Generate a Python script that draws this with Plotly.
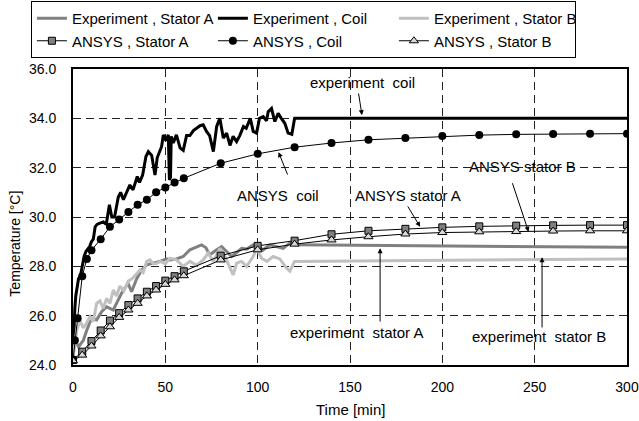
import plotly.graph_objects as go

# ---------------- data ----------------
exp_coil_t = [0, 0.5, 1, 1.5, 2, 3, 4, 5, 6, 7, 8, 9, 10, 11, 12, 13, 14.6, 16.4, 18, 19.7,
              21, 22.5, 24.5, 25.8, 27.3, 29, 30.8, 32.5, 34.8, 36, 37.7, 39.5, 40.8, 42.6, 44.4, 45.6,
              48, 48.9, 50.3, 51.6, 52.2, 52.8, 53.2, 54.3, 56, 58, 59.7, 61.5, 63.3, 65.2,
              67, 68.8, 70.5, 72.3, 74, 76, 77.8, 79.5, 81.4, 83.2, 85, 86.7, 88.6, 90.3,
              92.3, 93.8, 96, 97.6, 99.4, 101, 103, 104.8, 105.7, 107.5, 109.3, 111.1, 112.8, 114.7,
              116.5, 118.5, 120, 300]
exp_coil_T = [24.3, 25.6, 26.3, 26.8, 27.1, 27.5, 27.6, 28.1, 28.4, 28.6, 28.7, 28.8, 29.0, 29.1, 29.6, 29.7, 29.75, 29.8, 29.7, 30.5,
              30.0, 30.0, 30.8, 31.0, 30.7, 31.0, 31.3, 31.1, 31.64, 31.4, 31.7, 32.45, 32.65, 32.5, 31.7, 32.4,
              32.86, 33.33, 33.1, 33.33, 31.5, 31.6, 33.27, 33.0, 33.33, 32.8, 32.7, 33.3, 33.3, 33.5,
              33.6, 33.7, 33.74, 33.47, 33.3, 32.65, 33.67, 34.0, 33.2, 33.4, 32.9, 33.27, 33.06, 33.3,
              33.67, 33.6, 34.0, 33.47, 33.4, 34.0, 34.07, 33.9, 34.27, 34.4, 33.87, 34.2, 34.0, 33.8,
              33.4, 33.35, 34.0, 34.0]

exp_statA_t = [0, 1, 3, 5.6, 7.4, 10, 12.8, 15.5, 18.2, 21.8, 24.5, 27.2, 29.9, 31.7, 34.5, 37.2, 39.9,
               43.5, 47.1, 50.7, 52.5, 56, 59.7, 63.3, 67, 69.6, 72, 74, 77.8, 80.5, 83.2, 85.9, 88.5,
               91.3, 94, 97.6, 100.3, 103, 106.6, 110, 113.8, 117.4, 120, 300]
exp_statA_T = [24.3, 25.0, 24.74, 25.0, 25.4, 25.9, 25.83, 26.16, 26.36, 26.23, 26.64, 27.04, 27.3, 26.97, 27.5, 27.85, 28.06,
               28.12, 28.2, 28.3, 28.26, 28.3, 28.4, 28.67, 28.8, 28.87, 28.75, 28.46, 28.67, 28.8, 28.6, 28.4, 28.55,
               28.73, 28.7, 28.87, 28.8, 28.67, 28.87, 28.8, 28.73, 28.94, 28.87, 28.77]

exp_statB_t = [0, 1, 2, 3.8, 5.6, 7.4, 9.2, 11, 12.8, 14.6, 16.4, 18.2, 20, 21.8, 23.6, 25.4, 27.5, 29.9,
               32, 34.5, 36.3, 38, 39.9, 41.7, 43.5, 45.3, 47.5, 50, 52.5, 56, 59.7, 63.3, 66.9, 70.5,
               73.2, 76, 79.5, 82.3, 85, 86.7, 88.6, 91.3, 94, 97.6, 99.4, 102.1, 105, 108.4, 112,
               115.6, 117.4, 120, 300]
exp_statB_T = [24.3, 24.95, 25.4, 25.8, 25.5, 25.7, 25.96, 25.76, 26.5, 26.6, 26.3, 26.7, 26.5, 27.04, 26.8, 27.2, 27.0, 27.4,
               27.5, 27.7, 27.85, 27.75, 28.2, 28.26, 28.1, 28.12, 28.2, 28.1, 28.33, 28.26, 28.0, 28.2, 28.05, 28.26,
               28.53, 28.2, 28.73, 28.4, 27.93, 27.65, 28.13, 28.2, 28.0, 28.4, 28.73, 28.33, 28.2, 28.4, 28.3,
               27.93, 27.8, 28.2, 28.3]

ansys_coil_t = [0, 1, 2.5, 5, 7.5, 10, 15, 20, 25, 30, 35, 40, 45, 50, 55, 60, 80, 100, 120,
                140, 160, 180, 200, 220, 240, 260, 280, 300]
ansys_coil_T = [24.2, 25.0, 25.9, 27.6, 28.3, 28.65, 29.1, 29.6, 29.9, 30.2, 30.5, 30.7, 31.0, 31.2, 31.4, 31.57, 32.18, 32.56, 32.83,
                33.0, 33.13, 33.2, 33.28, 33.32, 33.35, 33.36, 33.38, 33.38]

ansys_stat_t = [0, 5, 10, 15, 20, 25, 30, 35, 40, 45, 50, 55, 60, 80, 100, 120,
                140, 160, 180, 200, 220, 240, 260, 280, 300]
ansys_statA_T = [24.2, 24.54, 24.97, 25.4, 25.8, 26.1, 26.43, 26.7, 26.97, 27.2, 27.42, 27.6, 27.8, 28.43, 28.83, 29.04,
                 29.3, 29.44, 29.52, 29.58, 29.62, 29.65, 29.66, 29.67, 29.67]
ansys_statB_T = [24.17, 24.4, 24.77, 25.18, 25.55, 25.93, 26.23, 26.5, 26.8, 27.04, 27.27, 27.45, 27.62, 28.26, 28.67, 28.9,
                 29.07, 29.2, 29.31, 29.37, 29.4, 29.41, 29.43, 29.44, 29.44]

x_ticks = [0, 50, 100, 150, 200, 250, 300]
y_ticks = [24, 26, 28, 30, 32, 34, 36]
y_tick_labels = ["24.0", "26.0", "28.0", "30.0", "32.0", "34.0", "36.0"]

assert len(exp_coil_t) == len(exp_coil_T)
assert len(exp_statA_t) == len(exp_statA_T)
assert len(exp_statB_t) == len(exp_statB_T)
assert len(ansys_coil_t) == len(ansys_coil_T)
assert len(ansys_stat_t) == len(ansys_statA_T) == len(ansys_statB_T)

FONT = "Liberation Sans, Arial, sans-serif"

fig = go.Figure()
fig.add_trace(go.Scatter(x=exp_statA_t, y=exp_statA_T, mode="lines", name="Experiment , Stator A",
                         line=dict(color="#808080", width=3)))
fig.add_trace(go.Scatter(x=exp_coil_t, y=exp_coil_T, mode="lines", name="Experiment , Coil",
                         line=dict(color="black", width=3)))
fig.add_trace(go.Scatter(x=exp_statB_t, y=exp_statB_T, mode="lines", name="Experiment , Stator B",
                         line=dict(color="#c0c0c0", width=3)))
fig.add_trace(go.Scatter(x=ansys_stat_t, y=ansys_statA_T, mode="lines+markers", name="ANSYS , Stator A",
                         line=dict(color="black", width=1),
                         marker=dict(symbol="square", size=7, color="#808080", line=dict(color="black", width=1))))
fig.add_trace(go.Scatter(x=ansys_coil_t, y=ansys_coil_T, mode="lines+markers", name="ANSYS , Coil",
                         line=dict(color="black", width=1),
                         marker=dict(symbol="circle", size=8, color="black")))
fig.add_trace(go.Scatter(x=ansys_stat_t, y=ansys_statB_T, mode="lines+markers", name="ANSYS , Stator B",
                         line=dict(color="black", width=1),
                         marker=dict(symbol="triangle-up", size=8, color="#d8d8d8", line=dict(color="black", width=1))))

# annotations: text labels and arrows (tip -> x,y ; tail -> ax,ay)
labels = [
    ("experiment  coil", 156.6, 35.44),
    ("ANSYS  coil", 111.1, 30.89),
    ("ANSYS stator A", 181.5, 30.89),
    ("ANSYS stator B", 243.3, 32.03),
    ("experiment  stator A", 153.3, 25.31),
    ("experiment  stator B", 252.2, 25.15),
]
arrows = [
    (156.5, 34.13, 154.5, 35.07),
    (111.3, 32.63, 116.5, 31.66),
    (188.0, 29.60, 180.8, 30.49),
    (246.7, 29.40, 237.7, 31.43),
    (166.3, 28.73, 166.3, 25.70),
    (254.0, 28.37, 254.0, 25.46),
]
annotations = []
for txt, x, y in labels:
    annotations.append(dict(text=txt, x=x, y=y, xref="x", yref="y", showarrow=False,
                            xanchor="center", yanchor="middle",
                            font=dict(family=FONT, size=15, color="black")))
for x, y, ax, ay in arrows:
    annotations.append(dict(text="", x=x, y=y, ax=ax, ay=ay, xref="x", yref="y",
                            axref="x", ayref="y", showarrow=True, arrowhead=2, arrowsize=1,
                            arrowwidth=1, arrowcolor="black", standoff=0))
# axis titles
annotations.append(dict(text="Time [min]", x=0.5, y=-0.152, xref="paper", yref="paper",
                        xanchor="center", yanchor="middle",
                        showarrow=False, font=dict(family=FONT, size=15, color="black")))
annotations.append(dict(text="Temperature [°C]", x=-0.1047, y=0.41, xref="paper", yref="paper",
                        xanchor="center", yanchor="middle",
                        showarrow=False, textangle=-90, font=dict(family=FONT, size=14, color="black")))

fig.update_layout(
    width=639, height=421,
    margin=dict(l=73, r=12, t=69, b=56, autoexpand=False),
    paper_bgcolor="white", plot_bgcolor="white",
    font=dict(family=FONT, size=14, color="black"),
    showlegend=True,
    legend=dict(orientation="h", x=-0.076, y=1.2297, xanchor="left", yanchor="top",
                entrywidth=136, font=dict(family=FONT, size=15, color="black"),
                bordercolor="black", borderwidth=1, bgcolor="white",
                tracegroupgap=0, itemwidth=30),
    annotations=annotations,
)
fig.update_xaxes(range=[0, 300], tickvals=x_ticks, showgrid=True, gridcolor="#222222", gridwidth=1,
                 griddash="8px,5px", showline=True, linecolor="black", linewidth=2, mirror=True,
                 zeroline=False, ticks="", ticklabelstandoff=8,
                 tickfont=dict(family=FONT, size=14, color="black"))
fig.update_yaxes(range=[24, 36], tickvals=y_ticks, ticktext=y_tick_labels, showgrid=True,
                 gridcolor="#222222", gridwidth=1, griddash="8px,5px", showline=True,
                 linecolor="black", linewidth=2, mirror=True, zeroline=False, ticks="",
                 ticklabelstandoff=12, tickfont=dict(family=FONT, size=14, color="black"))

fig.write_html("out.html", config={"displayModeBar": False},
               post_script="document.body.style.margin='0px';")
